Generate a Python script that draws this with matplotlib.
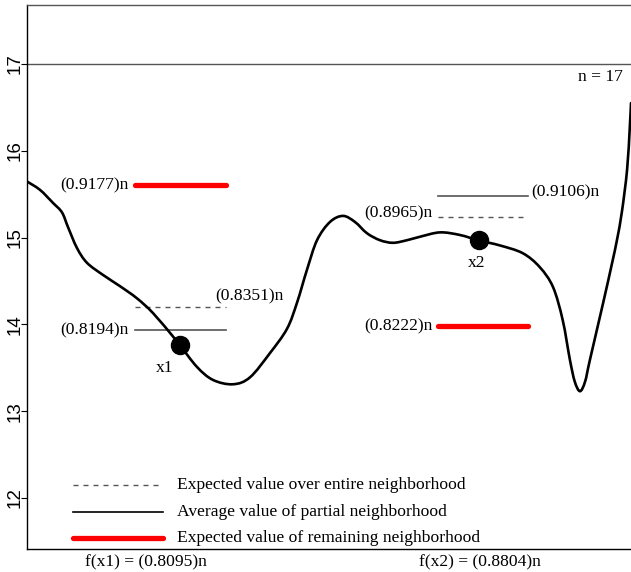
import matplotlib
matplotlib.use("Agg")
import matplotlib.pyplot as plt
from matplotlib.path import Path
from matplotlib.patches import PathPatch

# Objective curve over the search space (position 0..100, value)
curve_x = [0, 2.23, 4.38, 5.87, 6.87, 8.35, 10.0, 12.65, 15.47, 18.28, 20.93, 24.24,
           25.39, 28.2, 30.85, 34.16, 36.97, 40.28, 43.1, 44.75, 46.4, 48.06, 50.2,
           52.36, 54.34, 56.33, 58.48, 60.63, 62.95, 65.1, 68.4, 71.7, 74.85, 78.3,
           82.1, 84.9, 87.1, 88.7, 89.9, 90.7, 91.56, 92.4, 93.2, 95.4, 96.85, 97.7,
           98.5, 99.35, 99.8, 100]
curve_y = [15.65, 15.55, 15.40, 15.29, 15.12, 14.88, 14.71, 14.57, 14.44, 14.30, 14.13,
           13.86, 13.76, 13.51, 13.36, 13.31, 13.39, 13.67, 13.95, 14.25, 14.63, 14.97,
           15.18, 15.25, 15.18, 15.05, 14.97, 14.94, 14.97, 15.01, 15.06, 15.03, 14.967,
           14.91, 14.82, 14.66, 14.43, 14.05, 13.59, 13.34, 13.23, 13.34, 13.59, 14.25,
           14.70, 14.98, 15.30, 15.78, 16.27, 16.55]

n = 17
points = ["x1", "x2"]
point_x = [25.39, 74.85]
f_ratio = [0.8095, 0.8804]
entire_ratio = [0.8351, 0.8965]
partial_ratio = [0.8194, 0.9106]
remaining_ratio = [0.9177, 0.8222]
seg_start = [17.95, 68.07]
seg_end = [33.0, 82.96]

serif = "Liberation Serif"
sans = "Liberation Sans"
grey = "#555555"


def smooth_path(xs, ys):
    """Cubic Bezier path passing through every (x, y) point (Catmull-Rom tangents)."""
    pts = list(zip(xs, ys))
    verts = [pts[0]]
    codes = [Path.MOVETO]
    for i in range(len(pts) - 1):
        p0 = pts[i - 1] if i > 0 else pts[i]
        p1, p2 = pts[i], pts[i + 1]
        p3 = pts[i + 2] if i + 2 < len(pts) else pts[i + 1]
        c1 = (p1[0] + (p2[0] - p0[0]) / 6, p1[1] + (p2[1] - p0[1]) / 6)
        c2 = (p2[0] - (p3[0] - p1[0]) / 6, p2[1] - (p3[1] - p1[1]) / 6)
        verts += [c1, c2, p2]
        codes += [Path.CURVE4] * 3
    return Path(verts, codes)


fig = plt.figure(figsize=(6.31, 5.72), dpi=100)
ax = fig.add_axes([26.5 / 631, 23 / 572, 1 - 26.5 / 631, 544 / 572])
ax.set_xlim(0, 100)
ax.set_ylim(11.412, 17.68)

ax.add_patch(PathPatch(smooth_path(curve_x, curve_y), facecolor="none",
                       edgecolor="black", lw=1.9, capstyle="round",
                       joinstyle="round", zorder=3))
ax.axhline(n, color=grey, lw=1.0, zorder=1)

fy = [r * n for r in f_ratio]
ax.plot(point_x, fy, "o", color="black", ms=13, zorder=4)

for i in range(2):
    xs = [seg_start[i], seg_end[i]]
    ax.plot(xs, [entire_ratio[i] * n] * 2, color=grey, lw=1.0,
            linestyle=(0, (3.6, 3.6)), zorder=2)
    ax.plot(xs, [partial_ratio[i] * n] * 2, color=grey, lw=1.2, zorder=2)
    ax.plot(xs, [remaining_ratio[i] * n] * 2, color="#ff0000", lw=3.8,
            solid_capstyle="round", zorder=2)

tk = dict(family=serif, fontsize=12.6, color="black")
# labels around x1
ax.text(seg_start[0] - 1.1, remaining_ratio[0] * n, f"({remaining_ratio[0]:.4f})n",
        ha="right", va="center", **tk)
ax.text(seg_start[0] - 1.1, partial_ratio[0] * n, f"({partial_ratio[0]:.4f})n",
        ha="right", va="center", **tk)
ax.text(31.2, entire_ratio[0] * n + 0.13, f"({entire_ratio[0]:.4f})n",
        ha="left", va="center", **tk)
# labels around x2
ax.text(seg_start[1] - 0.9, entire_ratio[1] * n + 0.04, f"({entire_ratio[1]:.4f})n",
        ha="right", va="center", **tk)
ax.text(seg_end[1] + 0.6, partial_ratio[1] * n + 0.04, f"({partial_ratio[1]:.4f})n",
        ha="left", va="center", **tk)
ax.text(seg_start[1] - 0.9, remaining_ratio[1] * n, f"({remaining_ratio[1]:.4f})n",
        ha="right", va="center", **tk)

ax.text(22.9, 13.50, points[0], ha="center", va="center", **tk)
ax.text(74.4, 14.71, points[1], ha="center", va="center", **tk)
ax.text(98.7, 16.85, f"n = {n}", ha="right", va="center", **tk)

for i in range(2):
    ax.text(point_x[i] - 5.6 if i == 0 else point_x[i] + 0.1, 11.26,
            f"f({points[i]}) = ({f_ratio[i]:.4f})n",
            ha="center", va="center", clip_on=False, **tk)

# key
key_y = [12.15, 11.84, 11.54]
key_txt = ["Expected value over entire neighborhood",
           "Average value of partial neighborhood",
           "Expected value of remaining neighborhood"]
ax.plot([7.7, 22.6], [key_y[0]] * 2, color=grey, lw=1.0, linestyle=(0, (3.6, 3.6)))
ax.plot([7.7, 22.6], [key_y[1]] * 2, color="black", lw=1.2)
ax.plot([7.7, 22.6], [key_y[2]] * 2, color="#ff0000", lw=3.8, solid_capstyle="round")
for yy, t in zip(key_y, key_txt):
    ax.text(24.9, yy, t, ha="left", va="center", **tk)

ax.set_xticks([])
ax.set_yticks([12, 13, 14, 15, 16, 17])
ax.tick_params(axis="y", length=4.3, width=0.8, pad=-2.5, labelsize=13.5)
for lab in ax.get_yticklabels():
    lab.set_rotation(90)
    lab.set_va("center")
    lab.set_family(sans)
ax.spines["right"].set_visible(False)
ax.spines["top"].set_color(grey)
ax.spines["left"].set_linewidth(1.0)
ax.spines["bottom"].set_linewidth(1.0)
ax.spines["top"].set_linewidth(1.0)

fig.savefig("out.png", dpi=100)
